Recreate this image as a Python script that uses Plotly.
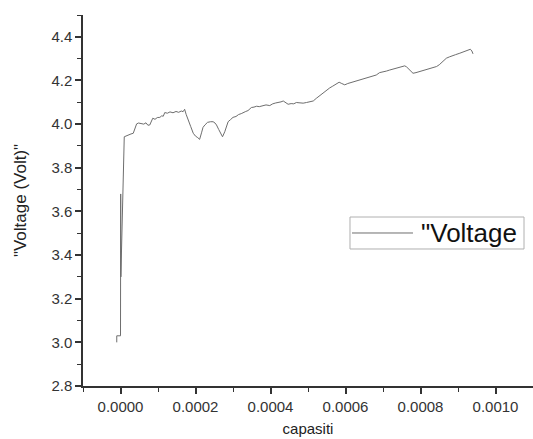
import plotly.graph_objects as go

capasiti = [
    -0.000010, -0.000010, -0.000001, 0.000000, 0.0000005, 0.000001, 0.000010,
    0.000016, 0.000022, 0.000028, 0.000034, 0.000038, 0.000043, 0.000048, 0.000056,
    0.000062, 0.000068, 0.000073, 0.000078, 0.000082, 0.000086, 0.000092, 0.000098,
    0.000105, 0.000110, 0.000114, 0.000118, 0.000125, 0.000132, 0.000140, 0.000148,
    0.000155, 0.000162, 0.000167, 0.000171, 0.000175, 0.000180, 0.000187, 0.000194,
    0.000200, 0.000206, 0.000211, 0.000216, 0.000220, 0.000225, 0.000232, 0.000240,
    0.000247, 0.000252, 0.000256, 0.000262, 0.000268, 0.000272, 0.000278, 0.000282,
    0.000287, 0.000293, 0.000300, 0.000308, 0.000315, 0.000322, 0.000327, 0.000334,
    0.000340, 0.000345, 0.000349, 0.000356, 0.000363, 0.000370, 0.000380, 0.000388,
    0.000398, 0.000406, 0.000414, 0.000422, 0.000428, 0.000434, 0.000440, 0.000447,
    0.000455, 0.000462, 0.000469, 0.000478, 0.000487, 0.000496, 0.000505, 0.000514,
    0.000522, 0.000531, 0.000540, 0.000549, 0.000558, 0.000566, 0.000575, 0.000583,
    0.000590, 0.000598, 0.000606, 0.000614, 0.000622, 0.000630, 0.000638, 0.000647,
    0.000656, 0.000665, 0.000674, 0.000682, 0.000691, 0.000700, 0.000709, 0.000718,
    0.000727, 0.000736, 0.000745, 0.000752, 0.000758, 0.000763, 0.000767, 0.000774,
    0.000780, 0.000788, 0.000796, 0.000804, 0.000816, 0.000825, 0.000834, 0.000843,
    0.000850, 0.000856, 0.000863, 0.000869, 0.000877, 0.000885, 0.000893, 0.000905,
    0.000912, 0.000920, 0.000927, 0.000933, 0.000937, 0.000940,
]
voltage = [
    3.000, 3.030, 3.030, 3.030, 3.680, 3.300, 3.942,
    3.947, 3.950, 3.955, 3.958, 3.975, 4.001, 4.005, 4.004,
    4.000, 4.006, 3.995, 3.996, 4.010, 4.027, 4.022, 4.030,
    4.031, 4.038, 4.036, 4.053, 4.050, 4.056, 4.052, 4.058,
    4.054, 4.060, 4.057, 4.068, 4.045, 4.019, 3.990, 3.958,
    3.945, 3.938, 3.930, 3.960, 3.985, 3.996, 4.008, 4.011,
    4.011, 4.005, 3.996, 3.975, 3.955, 3.942, 3.965, 3.990,
    4.011, 4.020, 4.031, 4.035, 4.044, 4.048, 4.053, 4.058,
    4.062, 4.070, 4.076, 4.078, 4.082, 4.080, 4.085, 4.088,
    4.085, 4.093, 4.097, 4.099, 4.102, 4.106, 4.098, 4.091,
    4.094, 4.093, 4.099, 4.096, 4.096, 4.099, 4.103, 4.106,
    4.118, 4.130, 4.143, 4.157, 4.166, 4.174, 4.183, 4.192,
    4.186, 4.180, 4.186, 4.190, 4.195, 4.198, 4.203, 4.207,
    4.212, 4.216, 4.222, 4.225, 4.236, 4.238, 4.243, 4.248,
    4.252, 4.255, 4.259, 4.263, 4.267, 4.262, 4.256, 4.245,
    4.233, 4.236, 4.240, 4.244, 4.249, 4.252, 4.258, 4.264,
    4.272, 4.282, 4.292, 4.302, 4.308, 4.314, 4.318, 4.325,
    4.330, 4.336, 4.340, 4.343, 4.335, 4.322,
]

series_name = '"Voltage'
x_ticks = [0.0, 0.0002, 0.0004, 0.0006, 0.0008, 0.0010]
x_tick_text = ["0.0000", "0.0002", "0.0004", "0.0006", "0.0008", "0.0010"]
y_ticks = [2.8, 3.0, 3.2, 3.4, 3.6, 3.8, 4.0, 4.2, 4.4]
y_tick_text = ["2.8", "3.0", "3.2", "3.4", "3.6", "3.8", "4.0", "4.2", "4.4"]

line_color = "#6e6e6e"
fig = go.Figure()
fig.add_trace(go.Scatter(
    x=capasiti, y=voltage, mode="lines", name=series_name,
    line=dict(color=line_color, width=1), showlegend=False,
))

# Legend box drawn in paper coordinates (Origin-style)
fig.add_shape(type="rect", xref="paper", yref="paper",
              x0=0.5933, x1=0.98, y0=0.3693, y1=0.4555,
              line=dict(color="#b0b0b0", width=1), fillcolor="white", layer="above")
fig.add_shape(type="line", xref="paper", yref="paper",
              x0=0.5978, x1=0.7333, y0=0.4124, y1=0.4124,
              line=dict(color=line_color, width=1), layer="above")
fig.add_annotation(text=series_name, xref="paper", yref="paper",
                   x=0.747, y=0.4124, xanchor="left", yanchor="middle",
                   showarrow=False, font=dict(size=26, color="#111111"))

font = "Liberation Sans, Arial, sans-serif"
fig.update_layout(
    width=533, height=439,
    margin=dict(l=83, r=0, t=15, b=53),
    paper_bgcolor="white", plot_bgcolor="white",
    font=dict(family=font, size=15, color="#333333"),
    xaxis=dict(
        range=[-0.0001, 0.0011], tickvals=x_ticks, ticktext=x_tick_text,
        showgrid=False, zeroline=False, showline=True, linecolor="#333333", linewidth=1.5,
        ticks="outside", ticklen=6, tickwidth=1.5, tickcolor="#333333",
        minor=dict(dtick=0.0001, tick0=-0.0001, ticks="outside", ticklen=4, tickwidth=1, tickcolor="#333333"),
        title=dict(text="capasiti", font=dict(size=15, color="#222222"), standoff=10),
    ),
    yaxis=dict(
        range=[2.8, 4.5], tickvals=y_ticks, ticktext=y_tick_text,
        showgrid=False, zeroline=False, showline=True, linecolor="#333333", linewidth=1.5,
        ticks="outside", ticklen=6, tickwidth=1.5, tickcolor="#333333",
        minor=dict(dtick=0.1, tick0=2.8, ticks="outside", ticklen=4, tickwidth=1, tickcolor="#333333"),
        title=dict(text='"Voltage (Volt)"', font=dict(size=17, color="#222222"), standoff=20),
    ),
)

fig.write_html("out.html")
